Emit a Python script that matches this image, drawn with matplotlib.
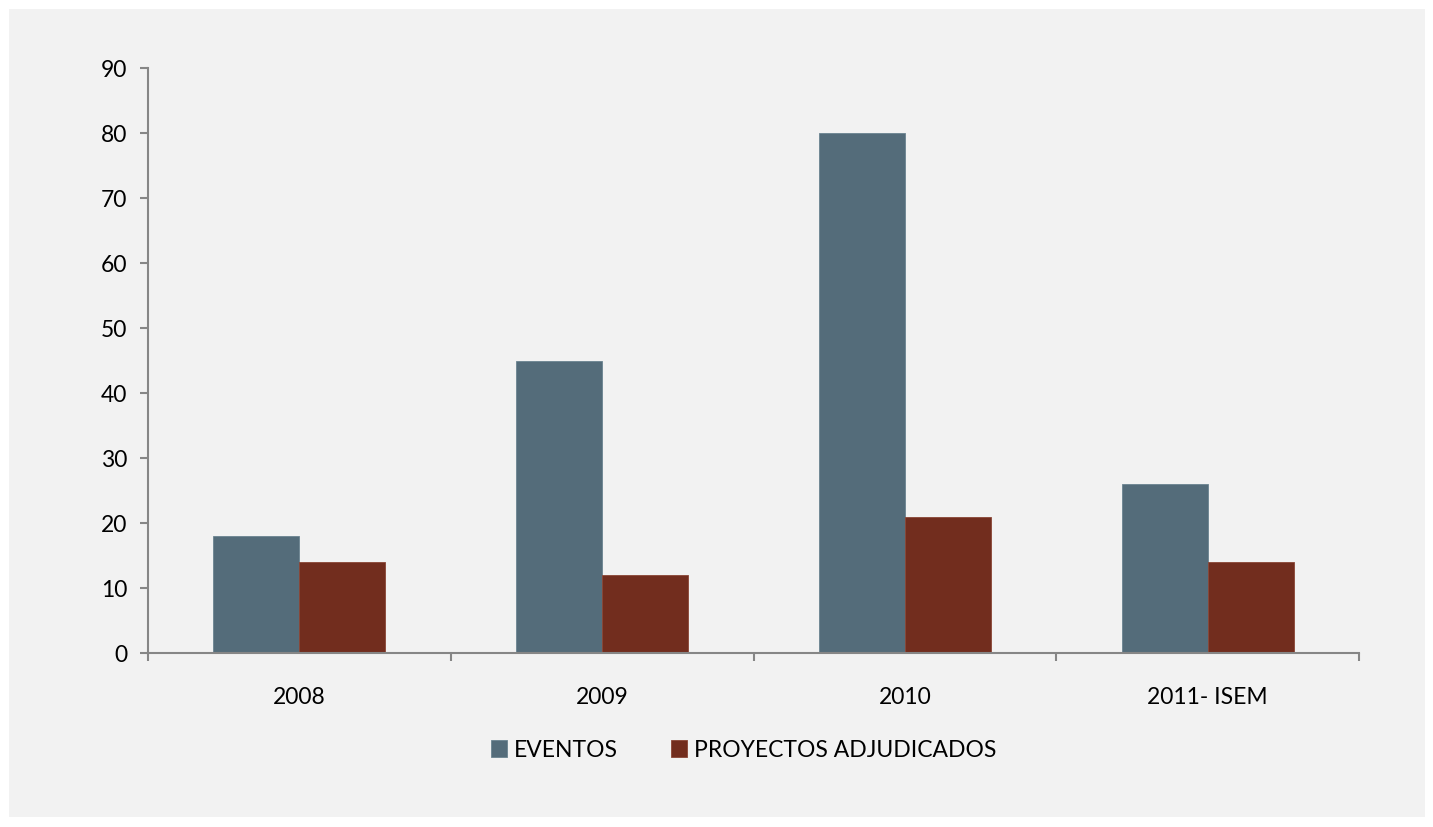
import matplotlib.pyplot as plt
from matplotlib.patches import Rectangle
import numpy as np

# datos
categorias = ['2008', '2009', '2010', '2011- ISEM']
eventos = [18, 45, 80, 26]
proyectos = [14, 12, 21, 14]

plt.rcParams['font.family'] = ['Lato', 'DejaVu Sans']
plt.rcParams['font.size'] = 16.5

color_eventos = '#546C7A'
color_proyectos = '#722D1E'
color_eje = '#868686'

fig = plt.figure(figsize=(14.33, 8.28), dpi=100, facecolor='white')
# fondo gris del gráfico
fig.patches.append(Rectangle((9 / 1433, 10 / 828), 1416 / 1433, 808 / 828,
                             transform=fig.transFigure, facecolor='#F2F2F2',
                             edgecolor='none', zorder=-10))

ax = fig.add_axes([148 / 1433, 1 - 654 / 828, 1211 / 1433, 585 / 828])
ax.set_facecolor('none')

x = np.arange(len(categorias))
ancho = 0.284
ax.bar(x - ancho / 2, eventos, ancho, color=color_eventos, edgecolor='#6B8391',
       linewidth=0.6, label='EVENTOS')
ax.bar(x + ancho / 2, proyectos, ancho, color=color_proyectos, edgecolor='#8A4535',
       linewidth=0.6, label='PROYECTOS ADJUDICADOS')

ax.set_xlim(-0.5, len(categorias) - 0.5)
ax.set_ylim(0, 90)
ax.set_yticks(range(0, 91, 10))
ax.set_xticks(x)
ax.set_xticklabels(categorias)
ax.set_xticks(np.arange(-0.5, len(categorias), 1), minor=True)

for s in ['top', 'right']:
    ax.spines[s].set_visible(False)
for s in ['left', 'bottom']:
    ax.spines[s].set_color(color_eje)
    ax.spines[s].set_linewidth(1.5)

ax.tick_params(axis='y', direction='out', length=6, width=1.5, color=color_eje, pad=9)
ax.tick_params(axis='x', which='major', length=0, pad=24)
ax.tick_params(axis='x', which='minor', direction='out', length=6, width=1.5, color=color_eje)

handles, labels = ax.get_legend_handles_labels()
fig.legend(handles, labels, loc='center', bbox_to_anchor=(0.519, 1 - 751 / 828),
           ncol=2, frameon=False, handlelength=0.72, handleheight=0.72,
           handletextpad=0.3, columnspacing=2.3, fontsize=16.5)

fig.savefig('out.png', dpi=100, facecolor='white')
